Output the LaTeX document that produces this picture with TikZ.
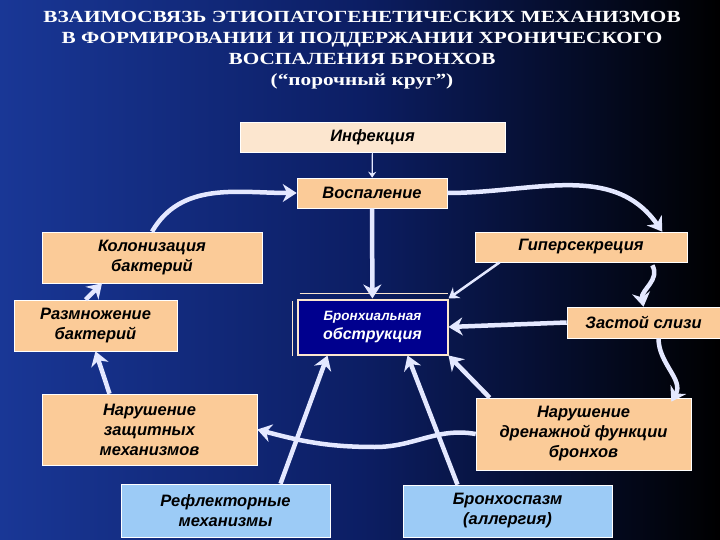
\documentclass[tikz,border=0pt]{standalone}
\usepackage{fontspec}
\setmainfont{Liberation Sans}
\newfontfamily\titlefont[FakeStretch=1.25]{Liberation Serif}
\usetikzlibrary{arrows.meta,shadings}
\definecolor{peach}{HTML}{FBCB98}
\definecolor{lpeach}{HTML}{FCE6CF}
\definecolor{lblue}{HTML}{9CCBF6}
\definecolor{dblue}{HTML}{00008E}
\definecolor{arr}{HTML}{E4E8FF}
\tikzset{
 box/.style={draw=white,line width=0.6pt,fill=peach,font=\bfseries\itshape\fontsize{16.5}{20}\selectfont,align=center,inner sep=1pt},
 bluebox/.style={box,fill=lblue},
 bigarr/.style={draw=arr,line width=4.5pt,-{Stealth[length=14pt,width=18pt]}},
 thinarr/.style={draw=arr,line width=2.5pt,-{Stealth[length=10pt,width=13pt]}}
}
\begin{document}
\begin{tikzpicture}[x=1pt,y=-1pt]
\shade[left color={rgb,255:red,25;green,55;blue,150},right color=black,middle color={rgb,255:red,12;green,30;blue,100}] (0,0) rectangle (720,540);
\useasboundingbox (0,0) rectangle (720,540);
\node[text=white,font=\titlefont\bfseries\fontsize{17}{21}\selectfont,align=center] (title) at (362,50)
 {ВЗАИМОСВЯЗЬ ЭТИОПАТОГЕНЕТИЧЕСКИХ МЕХАНИЗМОВ\\В ФОРМИРОВАНИИ И ПОДДЕРЖАНИИ ХРОНИЧЕСКОГО\\ВОСПАЛЕНИЯ БРОНХОВ\\(“порочный круг”)};
\node[box,fill=lpeach,minimum width=265pt,minimum height=30pt] (inf) at (372.5,137) {Инфекция};
\node[box,minimum width=150pt,minimum height=30pt] (vos) at (372,193) {Воспаление};
\node[box,minimum width=220pt,minimum height=51pt] (kol) at (152,257.5) {Колонизация\\бактерий};
\node[box,minimum width=212pt,minimum height=30pt] (gip) at (581,247) {Гиперсекреция};
\node[box,minimum width=163pt,minimum height=51pt] (raz) at (95.5,325.5) {Размножение\\бактерий};
\node[draw=lpeach,line width=2pt,fill=dblue,text=white,font=\bfseries\itshape\fontsize{16}{19}\selectfont,align=center,minimum width=150pt,minimum height=55pt] (bro) at (372.5,327) {\fontsize{13.5}{15}\selectfont Бронхиальная\\обструкция};
\draw[lpeach,line width=1.5pt] (bro.north west) ++(3,-5) -- ++(148,0);
\draw[lpeach,line width=1.5pt] (bro.south west) ++(-4,0) -- ++(0,-55);
\node[box,minimum width=153pt,minimum height=31pt] (zas) at (643.5,322.5) {Застой слизи};
\node[box,minimum width=215pt,minimum height=71pt] (nzm) at (149.5,429.5) {Нарушение\\защитных\\механизмов};
\node[box,minimum width=215pt,minimum height=72pt] (ndf) at (583.5,434) {Нарушение\\дренажной функции\\бронхов};
\node[bluebox,minimum width=209pt,minimum height=53pt] (ref) at (225.5,510.5) {Рефлекторные\\механизмы};
\node[bluebox,minimum width=209pt,minimum height=52pt] (bsp) at (507.5,511) {Бронхоспазм\\(аллергия)};
% connectors
\draw[draw=arr,line width=1.2pt,-{Stealth[length=6pt,width=8pt]}] (inf) -- (vos);
\draw[bigarr] (vos) -- (bro);
\draw[bigarr] (kol.north) to[out=60,in=180] (vos.west);
\draw[bigarr] (vos.east) to[out=0,in=125] ([xshift=-25pt]gip.north east);
\draw[bigarr] (gip.south east) ++(-35,3) coordinate (g1) (g1) to[out=-60,in=100] (zas.north);
\draw[bigarr] (zas.south) ++(15,0) coordinate (z1) (z1) to[out=-90,in=60] ([xshift=-20pt,yshift=-4pt]ndf.north east);
\draw[bigarr] (ndf.west) to[out=170,in=0] (375,447) to[out=180,in=-15] (nzm.east);
\draw[bigarr] (nzm.north) ++(-40,0) coordinate (n1) (n1) -- (raz.south);
\draw[bigarr] (raz.north) ++(-10,0) coordinate (r1) (r1) -- ([xshift=-50pt]kol.south);
\draw[thinarr] (gip.south west) ++(25,0) coordinate (g2) (g2) -- (bro.north east);
\draw[bigarr] (zas.west) -- (bro.east);
\draw[bigarr] (ndf.north west) ++(14,0) coordinate (d1) (d1) -- (bro.south east);
\draw[bigarr] (ref.north) ++(55,0) coordinate (f1) (f1) -- ([xshift=-45pt]bro.south);
\draw[bigarr] (bsp.north) ++(-50,0) coordinate (b1) (b1) -- ([xshift=35pt]bro.south);
\end{tikzpicture}
\end{document}
